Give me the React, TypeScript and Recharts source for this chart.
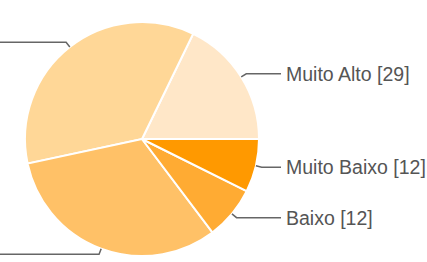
import { Cell, Pie, PieChart } from "recharts";

const categories = ["Muito Alto", "Alto", "Médio", "Baixo", "Muito Baixo"];
const counts = [29, 58, 52, 12, 12];
const sliceColors = ["#ffe7c8", "#ffd797", "#ffc167", "#ffab33", "#ff9900"];

const RADIAN = Math.PI / 180;

// label with a short elbow line, like the Forms summary charts
const renderLabel = (props: any) => {
    const { cx, cy, midAngle, outerRadius, name, value } = props;
    const cos = Math.cos(-midAngle * RADIAN);
    const sin = Math.sin(-midAngle * RADIAN);
    const sx = cx + outerRadius * cos;
    const sy = cy + outerRadius * sin;
    const mx = cx + (outerRadius + 6) * cos;
    const my = cy + (outerRadius + 6) * sin;
    const right = cos >= 0;
    const ex = right ? 281 : -12;
    const tx = right ? ex + 5 : ex - 5;
    return (
        <g>
            <path
                d={`M${sx},${sy}L${mx},${my}L${ex},${my}`}
                stroke="#666"
                strokeWidth={1.5}
                fill="none"
            />
            <text
                x={tx}
                y={my}
                textAnchor={right ? "start" : "end"}
                dominantBaseline="central"
                fill="#555"
                fontSize={19.5}
                fontFamily="'Liberation Sans', Arial, sans-serif"
            >
                {`${name} [${value}]`}
            </text>
        </g>
    );
};

export default function App() {
    const data = categories.map((name, i) => ({ name, value: counts[i] }));

    return (
        <div style={{ position: "absolute", left: 0, top: 0, width: 427, height: 262, background: "#fff" }}>
            <PieChart width={427} height={262} margin={{ top: 0, right: 0, bottom: 0, left: 0 }}>
                <Pie
                    data={data}
                    dataKey="value"
                    nameKey="name"
                    cx={142}
                    cy={139}
                    outerRadius={117}
                    startAngle={0}
                    endAngle={360}
                    stroke="#fff"
                    strokeWidth={2}
                    label={renderLabel}
                    labelLine={false}
                    isAnimationActive={false}
                >
                    {data.map((d, i) => (
                        <Cell key={d.name} fill={sliceColors[i]} />
                    ))}
                </Pie>
            </PieChart>
        </div>
    );
}
